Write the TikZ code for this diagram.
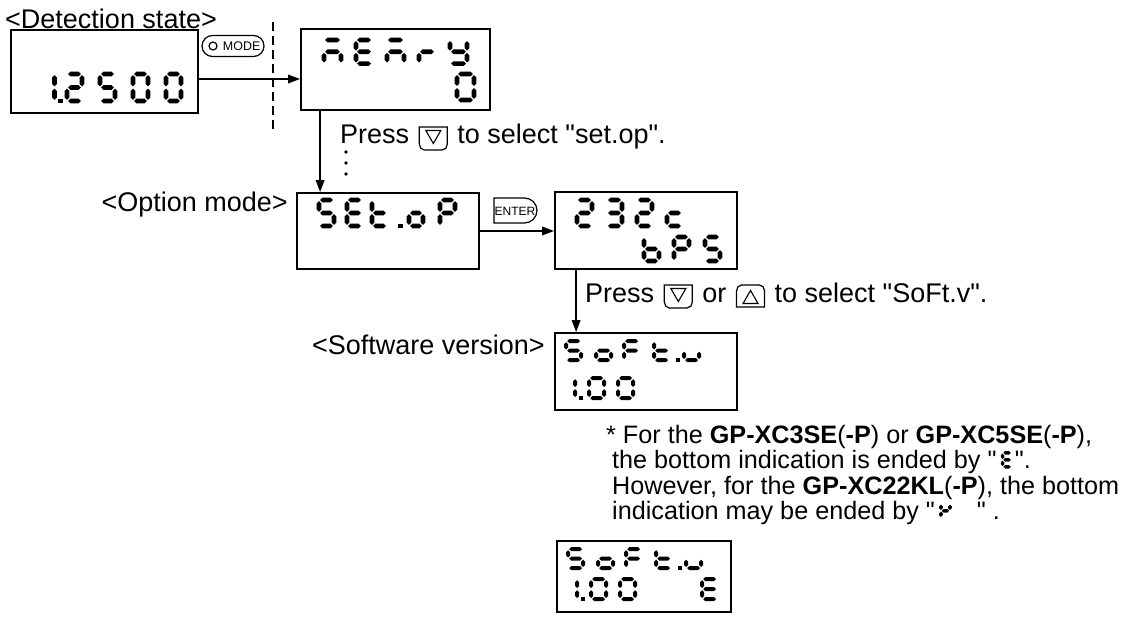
\documentclass[tikz,border=0pt]{standalone}
\usepackage{fontspec}
\setmainfont{Liberation Sans}[Ligatures=TeXOff]
\usepackage{tikz}
\usetikzlibrary{arrows.meta,positioning,calc}

\newcommand\txtfont{\fontsize{27}{30}\selectfont}
\newcommand\notefont{\fontsize{25.2}{25.5}\selectfont}
\newcommand\keyfont{\fontsize{12.5}{14}\selectfont}

% tapered segments (y pointing down), half thickness \segT, gap \segG
\def\segT{2.3}
\def\segG{1.1}
\newcommand\lcdh[2]{\fill (#1+\segG,#2) -- (#1+\segG+\segT,#2-\segT) -- (#1+\segW-\segG-\segT,#2-\segT) -- (#1+\segW-\segG,#2) -- (#1+\segW-\segG-\segT,#2+\segT) -- (#1+\segG+\segT,#2+\segT) -- cycle;}
\newcommand\lcdv[2]{\fill (#1,#2+\segG) -- (#1+\segT,#2+\segG+\segT) -- (#1+\segT,#2+\segH-\segG-\segT) -- (#1,#2+\segH-\segG) -- (#1-\segT,#2+\segH-\segG-\segT) -- (#1-\segT,#2+\segG+\segT) -- cycle;}
\def\lcdsega{\lcdh{0}{0}}
\def\lcdsegb{\lcdv{\segW}{0}}
\def\lcdsegc{\lcdv{\segW}{\segH}}
\def\lcdsegd{\lcdh{0}{2*\segH}}
\def\lcdsege{\lcdv{0}{\segH}}
\def\lcdsegf{\lcdv{0}{0}}
\def\lcdsegg{\lcdh{0}{\segH}}
\def\lcdsegp{\fill (-\segT,2*\segH-\segT) rectangle (\segT,2*\segH+\segT);}

% \lcd{top left}{width}{half height}{segments}
\newcommand\lcd[4]{%
  \begin{scope}[shift={#1}]
    \def\segW{#2}\def\segH{#3}%
    \foreach \s in {#4}{\csname lcdseg\s\endcsname}
  \end{scope}}

\newcommand\downkey{\hspace{2pt}\tikz[x=1pt,y=1pt,baseline=0pt,line width=1.2pt]{%
  \draw (0,17) -- (28,17) -- (28,0) to[out=-90,in=0] (23,-6) -- (5,-6) to[out=180,in=-90] (0,0) -- cycle;
  \draw[line width=1.1pt] (6.5,13.5) -- (21.5,13.5) -- (14,0.5) -- cycle;}\hspace{2pt}}
\newcommand\upkey{\hspace{2pt}\tikz[x=1pt,y=1pt,baseline=0pt,line width=1.2pt]{%
  \draw (0,-5) -- (28,-5) -- (28,11) to[out=90,in=0] (23,17) -- (5,17) to[out=180,in=90] (0,11) -- cycle;
  \draw[line width=1.1pt] (6.5,-1.5) -- (21.5,-1.5) -- (14,11.5) -- cycle;}\hspace{2pt}}
\newcommand\lcdglyph[1]{\tikz[x=1pt,y=-1pt,baseline=-17.5pt]{\def\segT{1.8}\def\segG{0.8}\lcd{(1.8,1.8)}{9}{7}{#1}}}

% software version screen, relative to the box corner; #1 = top of the lower line
\newcommand\softchars[1]{%
  \def\segT{2.1}%
  \lcd{(12,9)}{15}{9.5}{a,c,d,f,g}
  \lcd{(42,9)}{15}{9.5}{c,d,e,g}
  \lcd{(70,9)}{15}{9.5}{a,e,f,g}
  \lcd{(100,9)}{15}{9.5}{d,e,f,g}
  \lcd{(124,9)}{15}{9.5}{p}
  \lcd{(130,9)}{15}{9.5}{c,d,e}
  \lcd{(6,#1)}{15}{10}{b,c}
  \lcd{(27,#1)}{15}{10}{p}
  \lcd{(35,#1)}{15}{10}{a,b,c,d,e,f}
  \lcd{(64,#1)}{15}{10}{a,b,c,d,e,f}}

\begin{document}
\begin{tikzpicture}[x=1pt,y=-1pt,
  lcdbox/.style={draw,line width=1.8pt,inner sep=0},
  txt/.style={font=\txtfont,inner sep=0},
  note/.style={font=\notefont,inner sep=0,anchor=base west},
  arr/.style={-{Triangle[length=12pt,width=8.5pt]},line width=1.8pt},
  keyline/.style={line width=1.2pt},
  cut/.style={line width=1.4pt,dash pattern=on 9pt off 5pt},
]
\useasboundingbox (0,0) rectangle (1123,617);

% screens
\node[lcdbox,minimum width=187,minimum height=83] (detect) at (104.5,71.5) {};
\node[lcdbox,minimum width=189,minimum height=81] (memry) at (395.5,69.5) {};
\node[lcdbox,minimum width=182,minimum height=76] (setop) at (388,231) {};
\node[lcdbox,minimum width=182,minimum height=77] (baud) at (646,230.5) {};
\node[lcdbox,minimum width=182,minimum height=77] (softv) at (646,371.5) {};
\node[lcdbox,minimum width=174,minimum height=71] (softe) at (644,576.5) {};

% 1.2500
\lcd{(39.5,74)}{15}{13.5}{b,c}
\lcd{(60.5,74)}{15}{13.5}{p}
\lcd{(67,74)}{15}{13.5}{a,b,d,e,g}
\lcd{(100,74)}{15}{13.5}{a,c,d,f,g}
\lcd{(133,74)}{15}{13.5}{a,b,c,d,e,f}
\lcd{(166,74)}{15}{13.5}{a,b,c,d,e,f}

% memry / 0
\lcd{(324,40)}{17}{11.8}{a,c,e,g}
\lcd{(356,40)}{16}{11.8}{a,d,e,f,g}
\lcd{(387,40)}{17}{11.8}{a,c,e,g}
\lcd{(419,40)}{16}{11.8}{e,g}
\lcd{(450,40)}{17}{11.8}{b,c,d,f,g}
\lcd{(457,74)}{17}{13}{a,b,c,d,e,f}

% SEt.oP
\lcd{(319,200)}{15}{13}{a,c,d,f,g}
\lcd{(347,200)}{15}{13}{a,d,e,f,g}
\lcd{(372,200)}{15}{13}{d,e,f,g}
\lcd{(400.5,200)}{15}{13}{p}
\lcd{(409,200)}{14}{13}{c,d,e,g}
\lcd{(440,200)}{15}{13}{a,b,e,f,g}

% 232c / bPS
\lcd{(577,200)}{15}{13}{a,b,d,e,g}
\lcd{(607,200)}{15}{13}{a,b,c,d,g}
\lcd{(637,200)}{15}{13}{a,b,d,e,g}
\lcd{(667,200)}{15}{13}{d,e,g}
\lcd{(644,237)}{15}{12}{c,d,e,f,g}
\lcd{(674,237)}{15}{12}{a,b,e,f,g}
\lcd{(705,237)}{15}{12}{a,c,d,f,g}

% SoFt.v / 1.00
\begin{scope}[shift={(softv.north west)}]
  \softchars{46}
\end{scope}
\begin{scope}[shift={(softe.north west)}]
  \softchars{39}
  \lcd{(146,39)}{15}{10}{a,d,e,f,g}
\end{scope}

% labels
\node[txt,anchor=base west] (detlbl) at (5,29) {<Detection state>};
\node[txt,anchor=base east] (optlbl) at (288,212) {<Option mode>};
\node[txt,anchor=base east] (swlbl) at (545,354) {<Software version>};
\node[txt,anchor=base west] (press1) at (340,144) {Press \downkey{} to select "set.op".};
\node[txt,anchor=base west] (press2) at (585,302) {Press \downkey{} or \upkey{} to select "SoFt.v".};

% keys
\node[draw,keyline,rounded corners=10.5,minimum width=62,minimum height=21] (mode) at (233,46) {};
\node[draw,keyline,circle,minimum size=8,inner sep=0,right=7 of mode.west] (modeled) {};
\node[font=\keyfont,inner sep=0,anchor=east] (modetxt) at ([xshift=-4]mode.east) {MODE};
\node[font=\fontsize{12}{14}\selectfont,inner sep=0] (enter) at (515,211) {ENTER};
\draw[keyline] (494,198) -- (524.5,198) arc[start angle=-90,end angle=90,radius=12.5] -- (494,223) -- cycle;

% flow
\coordinate (cuttop) at (273,22);
\coordinate (cutbot) at (273,130);
\draw[cut] (cuttop) -- (cutbot);
\draw[arr] ([yshift=-7.5]detect.east) -- ([yshift=-7.5]detect.east -| memry.west);
\draw[arr] ([xshift=20]memry.south west) -- ([xshift=20]memry.south west |- setop.north);
\foreach \k in {0,1,2} \fill (346,152+11*\k) circle[radius=1.8];
\draw[arr] (setop.east) -- (setop.east -| baud.west);
\draw[arr] ([xshift=22]baud.south west) -- ([xshift=22]baud.south west |- softv.north);

% note
\node[note] (note1) at (606,443) {* For the \textbf{GP-XC3SE}(\textbf{-P}) or \textbf{GP-XC5SE}(\textbf{-P}),};
\node[note] (note2) at ([xshift=6,yshift=-25.5]note1.base west) {the bottom indication is ended by "\,\lcdglyph{a,d,e,f,g}\,".};
\node[note] (note3) at ([yshift=-25.5]note2.base west) {However, for the \textbf{GP-XC22KL}(\textbf{-P}), the bottom};
\node[note] (note4) at ([yshift=-25.5]note3.base west) {indication may be ended by "\,\lcdglyph{b,e,f,g}\quad" .};
\end{tikzpicture}
\end{document}
